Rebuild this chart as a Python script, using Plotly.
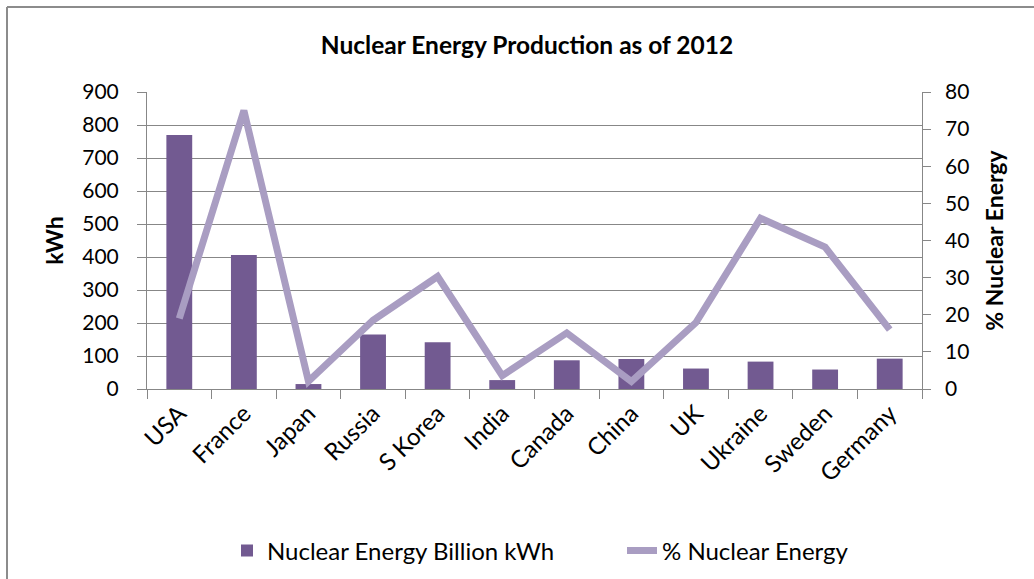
import plotly.graph_objects as go

# Nuclear power by country, 2012
countries = ["USA", "France", "Japan", "Russia", "S Korea", "India",
             "Canada", "China", "UK", "Ukraine", "Sweden", "Germany"]
billion_kwh = [770, 406, 15, 165, 142, 27, 87, 91, 62, 83, 59, 92]
pct_nuclear = [19.0, 75.0, 2.1, 18.5, 30.3, 3.6, 15.1, 2.0, 17.9, 46.0, 38.2, 16.0]

left_ticks = list(range(0, 901, 100))
right_ticks = list(range(0, 81, 10))

FONT = "Lato"
GRID = "#878787"
BAR = "#725A91"
LINE = "#A99DC2"

W, H = 1034, 579
ML, MR, MT, MB = 147, 90, 92, 190
PW, PH = W - ML - MR, H - MT - MB
PLOT_RIGHT = 922          # right edge of the plotting area, px
RIGHT_LABELS = 944        # where the right-hand tick labels start, px


def px_x(x):
    return (x - ML) / PW


def px_y(y):
    return (H - MB - y) / PH


fig = go.Figure()
fig.add_trace(go.Bar(
    x=countries, y=billion_kwh, name="Nuclear Energy Billion kWh",
    marker=dict(color=BAR, line=dict(width=0)), yaxis="y", legend="legend",
))
fig.add_trace(go.Scatter(
    x=countries, y=pct_nuclear, name="% Nuclear Energy", mode="lines",
    line=dict(color=LINE, width=7), yaxis="y2", legend="legend2",
))
# transparent copy of the % series so the label axis (y3) is rendered
fig.add_trace(go.Scatter(
    x=countries, y=pct_nuclear, mode="lines", yaxis="y3",
    line=dict(color="rgba(0,0,0,0)", width=0), hoverinfo="skip",
    showlegend=False,
))

legend_font = dict(family=FONT, size=24, color="#000000")
tick_font = dict(family=FONT, size=21, color="#000000")

fig.update_layout(
    width=W, height=H,
    margin=dict(l=ML, r=MR, t=MT, b=MB, autoexpand=False),
    paper_bgcolor="white", plot_bgcolor="white",
    font=dict(family=FONT, size=21, color="#000000"),
    bargap=0.6,
    title=dict(text="<b>Nuclear Energy Production as of 2012</b>",
               font=dict(family=FONT, size=24.5, color="#000000"),
               x=px_x(527), xref="paper", xanchor="center",
               y=1 - 45 / H, yanchor="middle"),
    xaxis=dict(
        domain=[0, px_x(PLOT_RIGHT)],
        type="category", tickson="boundaries", ticks="outside", ticklen=9,
        tickcolor=GRID, showline=True, linecolor=GRID, linewidth=1,
        tickangle=-45, showgrid=False,
        tickfont=dict(family=FONT, size=24, color="#000000"),
    ),
    yaxis=dict(
        range=[0, 900], tickvals=left_ticks, ticks="outside", ticklen=9,
        tickcolor=GRID, showline=True, linecolor=GRID, linewidth=1,
        showgrid=True, gridcolor=GRID, gridwidth=1, zeroline=False,
        ticklabelstandoff=14,
        tickfont=tick_font,
        title=dict(text="<b>kWh</b>", standoff=12,
                   font=dict(family=FONT, size=23, color="#000000")),
    ),
    # right axis: line and tick marks at the plot edge
    yaxis2=dict(
        range=[0, 80], tickvals=right_ticks, overlaying="y", side="right",
        anchor="x", ticks="outside", ticklen=8, tickcolor=GRID,
        showline=True, linecolor=GRID, linewidth=1, showgrid=False,
        zeroline=False, showticklabels=False,
    ),
    # right axis: tick labels and title, set a little further out
    yaxis3=dict(
        range=[0, 80], tickvals=right_ticks, overlaying="y", side="right",
        anchor="free", position=px_x(RIGHT_LABELS), ticks="",
        showline=False, showgrid=False, zeroline=False,
        tickfont=tick_font,
        title=dict(text="<b>% Nuclear Energy</b>", standoff=18,
                   font=dict(family=FONT, size=23, color="#000000")),
    ),
    legend=dict(
        x=px_x(227), xanchor="left", y=px_y(551), yanchor="middle",
        font=legend_font, bgcolor="rgba(0,0,0,0)",
    ),
    legend2=dict(
        x=px_x(622), xanchor="left", y=px_y(551), yanchor="middle",
        font=legend_font, bgcolor="rgba(0,0,0,0)",
    ),
    showlegend=True,
)

# chart frame (left and top edges)
fig.add_shape(type="line", xref="paper", yref="paper",
              x0=px_x(7), x1=px_x(7), y0=px_y(7), y1=px_y(H + 5),
              line=dict(color="#8C8C8C", width=2), layer="above")
fig.add_shape(type="line", xref="paper", yref="paper",
              x0=px_x(7), x1=px_x(W + 5), y0=px_y(7), y1=px_y(7),
              line=dict(color="#8C8C8C", width=2), layer="above")

fig.write_html("out.html")
